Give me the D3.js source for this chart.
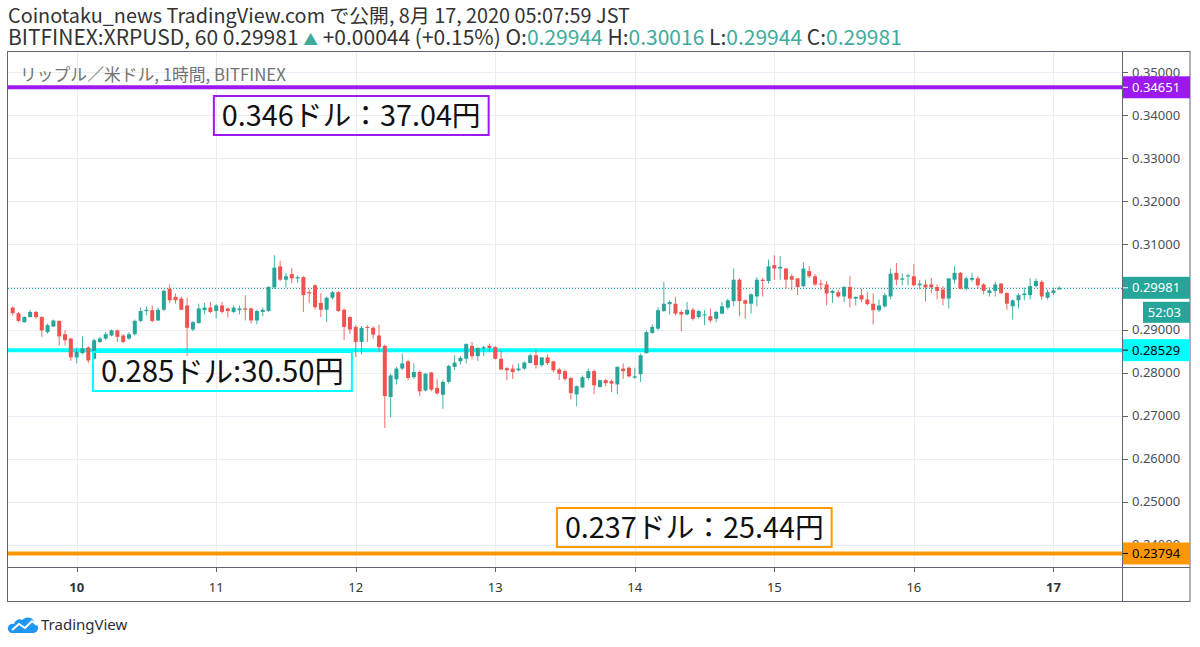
<!DOCTYPE html>
<html>
<head>
<meta charset="utf-8">
<script src="https://cdnjs.cloudflare.com/ajax/libs/d3/7.8.5/d3.min.js"></script>
<style>
  body { margin: 0; background: #fff; }
  svg { display: block; font-family: "Noto Sans CJK JP", "Noto Sans", sans-serif; }
</style>
</head>
<body>
<svg id="chart" width="1200" height="647"></svg>
<script>
// ---- data ----
const HOUR = 3600 * 1000;
const firstCandle = Date.UTC(2020, 7, 9, 13);   // 60 min candles, XRPUSD
// [open, high, low, close]
const ohlc = [
  [0.2952,0.2955,0.2934,0.2939],[0.2939,0.2942,0.2918,0.2921],[0.2918,0.2932,0.2917,0.2930],[0.2930,0.2946,0.2929,0.2942],
  [0.2942,0.2944,0.2926,0.2930],[0.2930,0.2932,0.2884,0.2899],[0.2895,0.2915,0.2891,0.2911],[0.2908,0.2924,0.2907,0.2922],
  [0.2921,0.2922,0.2864,0.2885],[0.2890,0.2899,0.2864,0.2876],[0.2880,0.2881,0.2828,0.2836],[0.2836,0.2859,0.2822,0.2849],
  [0.2846,0.2885,0.2843,0.2857],[0.2859,0.2862,0.2823,0.2829],[0.2833,0.2880,0.2831,0.2876],[0.2872,0.2884,0.2870,0.2880],
  [0.2880,0.2895,0.2876,0.2890],[0.2887,0.2901,0.2885,0.2899],[0.2899,0.2901,0.2872,0.2884],[0.2887,0.2890,0.2870,0.2872],
  [0.2880,0.2895,0.2877,0.2890],[0.2890,0.2924,0.2887,0.2921],[0.2921,0.2953,0.2918,0.2944],[0.2944,0.2955,0.2934,0.2947],
  [0.2946,0.2957,0.2918,0.2921],[0.2922,0.2952,0.2921,0.2947],[0.2947,0.2994,0.2944,0.2991],[0.2996,0.3006,0.2963,0.2969],
  [0.2977,0.2985,0.2961,0.2969],[0.2973,0.2977,0.2946,0.2947],[0.2957,0.2975,0.2839,0.2905],[0.2901,0.2921,0.2897,0.2918],
  [0.2916,0.2961,0.2915,0.2950],[0.2946,0.2963,0.2936,0.2952],[0.2952,0.2965,0.2939,0.2942],[0.2944,0.2960,0.2927,0.2957],
  [0.2957,0.2965,0.2938,0.2942],[0.2950,0.2952,0.2929,0.2944],[0.2942,0.2957,0.2939,0.2952],[0.2946,0.2957,0.2936,0.2950],
  [0.2950,0.2981,0.2922,0.2947],[0.2950,0.2952,0.2915,0.2922],[0.2922,0.2947,0.2913,0.2944],[0.2942,0.2952,0.2932,0.2947],
  [0.2944,0.3002,0.2942,0.3000],[0.2999,0.3074,0.2996,0.3045],[0.3048,0.3061,0.3014,0.3017],[0.3017,0.3033,0.2999,0.3025],
  [0.3030,0.3044,0.3009,0.3020],[0.3020,0.3027,0.3009,0.3023],[0.3023,0.3025,0.2942,0.2981],[0.2988,0.2995,0.2963,0.2985],
  [0.3004,0.3006,0.2947,0.2953],[0.2963,0.2986,0.2930,0.2947],[0.2947,0.2978,0.2918,0.2975],[0.2975,0.2991,0.2971,0.2988],
  [0.2988,0.2991,0.2942,0.2944],[0.2947,0.2950,0.2877,0.2907],[0.2930,0.2932,0.2891,0.2901],[0.2907,0.2911,0.2837,0.2872],
  [0.2872,0.2909,0.2843,0.2905],[0.2907,0.2911,0.2872,0.2905],[0.2905,0.2909,0.2880,0.2889],[0.2887,0.2912,0.2849,0.2860],
  [0.2863,0.2866,0.2672,0.2746],[0.2744,0.2798,0.2696,0.2794],[0.2785,0.2814,0.2773,0.2810],[0.2810,0.2845,0.2806,0.2822],
  [0.2827,0.2831,0.2783,0.2788],[0.2790,0.2822,0.2786,0.2802],[0.2802,0.2806,0.2746,0.2757],[0.2759,0.2800,0.2757,0.2798],
  [0.2801,0.2802,0.2757,0.2761],[0.2765,0.2786,0.2749,0.2752],[0.2749,0.2783,0.2716,0.2779],[0.2779,0.2819,0.2775,0.2816],
  [0.2814,0.2841,0.2806,0.2824],[0.2827,0.2839,0.2819,0.2835],[0.2833,0.2869,0.2822,0.2867],[0.2863,0.2872,0.2831,0.2839],
  [0.2839,0.2860,0.2828,0.2858],[0.2857,0.2863,0.2839,0.2860],[0.2863,0.2868,0.2849,0.2858],[0.2860,0.2863,0.2831,0.2833],
  [0.2833,0.2853,0.2806,0.2808],[0.2811,0.2814,0.2783,0.2806],[0.2810,0.2819,0.2786,0.2802],[0.2806,0.2822,0.2803,0.2810],
  [0.2810,0.2827,0.2806,0.2824],[0.2823,0.2845,0.2822,0.2841],[0.2841,0.2854,0.2810,0.2818],[0.2818,0.2837,0.2814,0.2836],
  [0.2836,0.2843,0.2818,0.2823],[0.2827,0.2828,0.2801,0.2806],[0.2808,0.2812,0.2783,0.2798],[0.2804,0.2808,0.2781,0.2786],
  [0.2788,0.2790,0.2738,0.2753],[0.2750,0.2771,0.2722,0.2769],[0.2766,0.2794,0.2764,0.2790],[0.2788,0.2810,0.2783,0.2804],
  [0.2804,0.2808,0.2750,0.2771],[0.2767,0.2784,0.2766,0.2783],[0.2783,0.2786,0.2769,0.2776],[0.2781,0.2784,0.2755,0.2775],
  [0.2773,0.2815,0.2750,0.2814],[0.2810,0.2822,0.2786,0.2804],[0.2812,0.2815,0.2789,0.2792],[0.2789,0.2812,0.2786,0.2792],
  [0.2797,0.2845,0.2779,0.2841],[0.2846,0.2899,0.2845,0.2895],[0.2893,0.2913,0.2891,0.2907],[0.2903,0.2953,0.2899,0.2946],
  [0.2944,0.3012,0.2942,0.2961],[0.2960,0.2969,0.2936,0.2965],[0.2961,0.2977,0.2934,0.2938],[0.2942,0.2947,0.2897,0.2936],
  [0.2936,0.2965,0.2934,0.2947],[0.2947,0.2952,0.2922,0.2926],[0.2930,0.2947,0.2926,0.2944],[0.2934,0.2946,0.2911,0.2936],
  [0.2932,0.2950,0.2918,0.2922],[0.2926,0.2944,0.2918,0.2942],[0.2938,0.2965,0.2936,0.2955],[0.2952,0.2973,0.2947,0.2969],
  [0.2967,0.3043,0.2955,0.3017],[0.3017,0.3020,0.2932,0.2967],[0.2969,0.2971,0.2926,0.2961],[0.2961,0.2985,0.2938,0.2983],
  [0.2978,0.3023,0.2955,0.3017],[0.3017,0.3021,0.2978,0.3014],[0.3014,0.3064,0.3008,0.3048],[0.3051,0.3074,0.3017,0.3043],
  [0.3043,0.3072,0.3017,0.3047],[0.3043,0.3044,0.2996,0.3017],[0.3025,0.3030,0.2992,0.3017],[0.3020,0.3021,0.2981,0.3000],
  [0.3002,0.3058,0.2999,0.3043],[0.3037,0.3048,0.3021,0.3025],[0.3025,0.3030,0.3002,0.3006],[0.3008,0.3017,0.2994,0.3006],
  [0.3006,0.3014,0.2957,0.2985],[0.2986,0.2994,0.2963,0.2991],[0.2988,0.2994,0.2975,0.2978],[0.2978,0.3002,0.2965,0.3000],
  [0.3000,0.3025,0.2952,0.2973],[0.2973,0.2978,0.2957,0.2977],[0.2981,0.2996,0.2965,0.2971],[0.2971,0.2988,0.2957,0.2960],
  [0.2961,0.2985,0.2913,0.2946],[0.2946,0.2971,0.2942,0.2957],[0.2955,0.2986,0.2952,0.2981],[0.2978,0.3043,0.2971,0.3031],
  [0.3033,0.3056,0.3004,0.3017],[0.3017,0.3031,0.3004,0.3020],[0.3025,0.3031,0.3004,0.3027],[0.3025,0.3053,0.3002,0.3004],
  [0.3004,0.3016,0.2994,0.3008],[0.3006,0.3017,0.2967,0.2999],[0.3006,0.3021,0.2986,0.2999],[0.3000,0.3006,0.2971,0.2991],
  [0.2994,0.3002,0.2957,0.2973],[0.2973,0.3021,0.2950,0.3020],[0.3017,0.3048,0.3008,0.3033],[0.3033,0.3035,0.2994,0.2996],
  [0.2996,0.3025,0.2992,0.3020],[0.3017,0.3033,0.3012,0.3021],[0.3020,0.3025,0.2996,0.3004],[0.3006,0.3009,0.2983,0.2991],
  [0.2986,0.2999,0.2978,0.2992],[0.2991,0.3012,0.2978,0.3006],[0.3008,0.3009,0.2983,0.2986],[0.2986,0.2988,0.2947,0.2961],
  [0.2955,0.2971,0.2924,0.2969],[0.2969,0.2985,0.2950,0.2981],[0.2981,0.2999,0.2969,0.2985],[0.2981,0.3020,0.2971,0.3002],
  [0.3002,0.3020,0.2999,0.3014],[0.3012,0.3016,0.2971,0.2978],[0.2975,0.2994,0.2971,0.2988],[0.2986,0.2999,0.2981,0.2992],
  [0.29944,0.30016,0.29944,0.29981]
];

const priceTicks = [0.24, 0.25, 0.26, 0.27, 0.28, 0.29, 0.30, 0.31, 0.32, 0.33, 0.34, 0.35];
const boldDays = [10, 17];
const lastPrice = 0.29981;
const countdown = "52:03";

// horizontal levels and their notes
const levelPrices = [0.34651, 0.28529, 0.23794];
const noteTexts = ["0.346ドル：37.04円", "0.285ドル:30.50円", "0.237ドル：25.44円"];
const noteHours = [34.6, 13.8, 93.6];          // hours after first candle (left edge)
const notePrices = [0.34448, 0.28486, 0.24853]; // price at top edge

const titleLine = "Coinotaku_news TradingView.com で公開, 8月 17, 2020 05:07:59 JST";
const legendParts = [
  ["BITFINEX:XRPUSD, 60 0.29981 ", false], ["▲", true], [" +0.00044 (+0.15%) O:", false],
  ["0.29944", true], [" H:", false], ["0.30016", true], [" L:", false],
  ["0.29944", true], [" C:", false], ["0.29981", true]
];
const watermark = "リップル／米ドル, 1時間, BITFINEX";

// ---- drawing ----
const UP = "#26a69a", DOWN = "#ef5350";
const levelColors = ["#9c19ef", "#00ffff", "#ff9800"];
const levelText = ["#ffffff", "#000000", "#000000"];

const svg = d3.select("#chart");
const plot = { left: 8, right: 1122, top: 52, bottom: 567, axisRight: 1190, frameBottom: 602 };

const x = d3.scaleUtc()
  .domain([new Date(firstCandle - 0.81 * HOUR), new Date(firstCandle + 190.8 * HOUR)])
  .range([plot.left, plot.right]);
const y = d3.scaleLinear().domain([0.25, 0.35]).range([501.7, 72.3]);

function fitWidth(sel, w) {
  const len = sel.node().getComputedTextLength();
  sel.attr("font-size", parseFloat(sel.attr("font-size")) * w / len);
}

svg.append("defs").append("clipPath").attr("id", "plotClip")
  .append("rect")
  .attr("x", plot.left).attr("y", plot.top)
  .attr("width", plot.right - plot.left).attr("height", plot.bottom - plot.top);

// grid
const dayTicks = x.ticks(d3.utcDay.every(1));
const grid = svg.append("g").attr("clip-path", "url(#plotClip)");
grid.selectAll(".hg").data(priceTicks).enter().append("line")
  .attr("x1", plot.left).attr("x2", plot.right)
  .attr("y1", d => Math.round(y(d)) + 0.5).attr("y2", d => Math.round(y(d)) + 0.5)
  .attr("stroke", "#e9eef4");
grid.selectAll(".vg").data(dayTicks).enter().append("line")
  .attr("y1", plot.top).attr("y2", plot.bottom)
  .attr("x1", d => Math.round(x(d)) + 0.5).attr("x2", d => Math.round(x(d)) + 0.5)
  .attr("stroke", "#e9eef4");

// watermark
const wm = svg.append("text").attr("x", 20).attr("y", 81)
  .attr("font-size", 17).attr("fill", "#737373").text(watermark);
fitWidth(wm, 266);

// level lines
grid.selectAll(".lvl").data(levelPrices).enter().append("line")
  .attr("x1", plot.left).attr("x2", plot.right)
  .attr("y1", d => y(d)).attr("y2", d => y(d))
  .attr("stroke", (d, i) => levelColors[i]).attr("stroke-width", 4);

// current price dotted line
grid.append("line")
  .attr("x1", plot.left).attr("x2", plot.right)
  .attr("y1", Math.round(y(lastPrice)) + 0.5).attr("y2", Math.round(y(lastPrice)) + 0.5)
  .attr("stroke", UP).attr("stroke-dasharray", "1,2");

// candles
const candles = svg.append("g").attr("clip-path", "url(#plotClip)")
  .selectAll("g").data(ohlc).enter().append("g")
  .attr("transform", (d, i) => "translate(" + x(new Date(firstCandle + i * HOUR)) + ",0)");
candles.append("line")
  .attr("y1", d => y(d[1])).attr("y2", d => y(d[2]))
  .attr("stroke", d => d[3] >= d[0] ? UP : DOWN).attr("stroke-width", 1).attr("opacity", 0.85);
candles.append("rect")
  .attr("x", -2).attr("width", 4)
  .attr("y", d => y(Math.max(d[0], d[3])))
  .attr("height", d => Math.max(1, Math.abs(y(d[0]) - y(d[3]))))
  .attr("fill", d => d[3] >= d[0] ? UP : DOWN);

// notes
levelPrices.forEach((p, i) => {
  const bx = x(new Date(firstCandle + noteHours[i] * HOUR));
  const by = y(notePrices[i]);
  const t = svg.append("text").attr("x", bx + 8).attr("y", by + 30)
    .attr("font-size", 26).attr("fill", "#111").text(noteTexts[i]);
  fitWidth(t, i === 1 ? 243 : 259);
  const w = t.node().getComputedTextLength() + 16;
  svg.insert("rect", "text:last-of-type")
    .attr("x", bx).attr("y", by).attr("width", w).attr("height", 39)
    .attr("fill", "none").attr("stroke", levelColors[i]).attr("stroke-width", 2);
});

// frame
svg.append("rect").attr("x", plot.left - 0.5).attr("y", plot.top - 0.5)
  .attr("width", plot.axisRight - plot.left + 0.5).attr("height", plot.frameBottom - plot.top)
  .attr("fill", "none").attr("stroke", "#62656f");
svg.append("line").attr("x1", plot.right + 0.5).attr("x2", plot.right + 0.5)
  .attr("y1", plot.top).attr("y2", plot.frameBottom).attr("stroke", "#62656f");
svg.append("line").attr("x1", plot.left).attr("x2", plot.axisRight)
  .attr("y1", plot.bottom + 0.5).attr("y2", plot.bottom + 0.5).attr("stroke", "#62656f");

// price axis
const pa = svg.append("g");
pa.selectAll(".tk").data(priceTicks).enter().append("line")
  .attr("x1", plot.right + 1).attr("x2", plot.right + 6)
  .attr("y1", d => Math.round(y(d)) + 0.5).attr("y2", d => Math.round(y(d)) + 0.5)
  .attr("stroke", "#62656f");
pa.selectAll(".tl").data(priceTicks).enter().append("text")
  .attr("x", 1132).attr("y", d => y(d)).attr("dy", "0.35em")
  .attr("font-size", 13).attr("fill", "#4b4e57")
  .attr("font-family", "'Noto Sans', sans-serif")
  .text(d => d3.format(".5f")(d));

// price tags
function tag(price, fill, color) {
  const yy = y(price);
  pa.append("rect").attr("x", plot.right + 1).attr("y", yy - 11)
    .attr("width", plot.axisRight - plot.right - 1).attr("height", 22).attr("fill", fill);
  pa.append("line").attr("x1", plot.right + 1).attr("x2", plot.right + 6)
    .attr("y1", yy).attr("y2", yy).attr("stroke", color);
  pa.append("text").attr("x", 1132).attr("y", yy).attr("dy", "0.35em")
    .attr("font-size", 13).attr("fill", color)
    .attr("font-family", "'Noto Sans', sans-serif")
    .text(d3.format(".5f")(price));
}
levelPrices.forEach((p, i) => tag(p, levelColors[i], levelText[i]));
tag(lastPrice, UP, "#ffffff");
const cy = y(lastPrice) + 14;
pa.append("rect").attr("x", 1143).attr("y", cy).attr("width", plot.axisRight - 1143).attr("height", 21).attr("fill", UP);
pa.append("text").attr("x", 1181).attr("y", cy + 10.5).attr("dy", "0.35em").attr("text-anchor", "end")
  .attr("font-size", 13).attr("fill", "#fff").attr("font-family", "'Noto Sans', sans-serif").text(countdown);

// time axis
const ta = svg.append("g");
ta.selectAll("line").data(dayTicks).enter().append("line")
  .attr("x1", d => Math.round(x(d)) + 0.5).attr("x2", d => Math.round(x(d)) + 0.5)
  .attr("y1", plot.bottom + 1).attr("y2", plot.bottom + 5).attr("stroke", "#62656f");
ta.selectAll("text").data(dayTicks).enter().append("text")
  .attr("x", d => x(d)).attr("y", 587).attr("dy", "0.35em").attr("text-anchor", "middle")
  .attr("font-size", 13).attr("fill", "#333")
  .attr("font-family", "'Noto Sans', sans-serif")
  .attr("font-weight", d => boldDays.includes(d.getUTCDate()) ? "bold" : "normal")
  .text(d3.utcFormat("%-d"));

// header
const t1 = svg.append("text").attr("x", 8).attr("y", 23).attr("font-size", 18).attr("fill", "#333").text(titleLine);
fitWidth(t1, 622);
const t2 = svg.append("text").attr("x", 8).attr("y", 45).attr("font-size", 18).attr("fill", "#333");
legendParts.forEach(p => {
  t2.append("tspan").attr("fill", p[1] ? "#3dac9c" : "#333")
    .attr("font-size", p[0] === "▲" ? "0.7em" : null)
    .text(p[0]);
});
fitWidth(t2, 894);

// logo
const logo = svg.append("g").attr("transform", "translate(8,615)");
logo.append("path")
  .attr("d", "M3 18 H26 A5 5 0 0 0 27 8.5 A7.5 7.5 0 0 0 14 5 A5.5 5.5 0 0 0 6 9 A4.5 4.5 0 0 0 3 18 Z")
  .attr("fill", "#2196f3");
logo.append("polyline").attr("points", "4,15 11,9 17,13 24,6 29,10")
  .attr("fill", "none").attr("stroke", "#fff").attr("stroke-width", 2);
logo.append("text").attr("x", 33).attr("y", 15).attr("font-size", 15)
  .attr("fill", "#2a2e39").attr("font-family", "'Noto Sans', sans-serif").text("TradingView");
</script>
</body>
</html>
